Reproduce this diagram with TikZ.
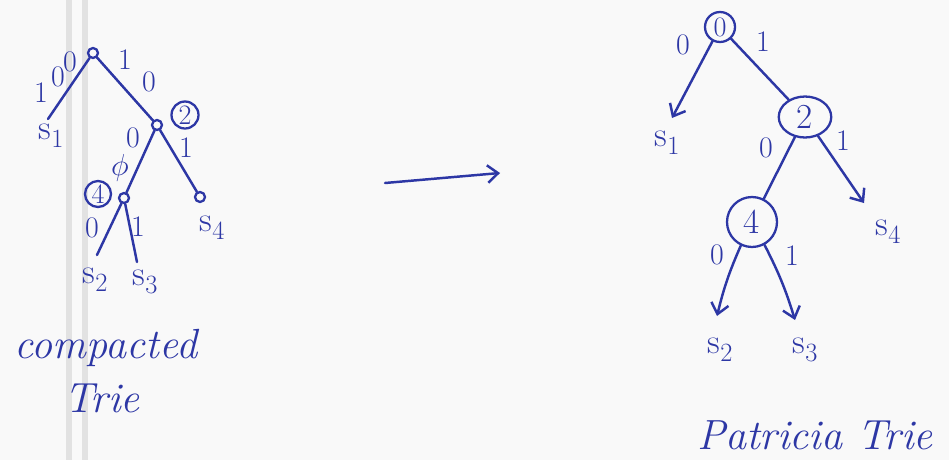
\documentclass[tikz,border=0pt]{standalone}
\usetikzlibrary{arrows.meta,shapes.geometric}
\definecolor{ink}{RGB}{45,55,165}
\definecolor{paper}{RGB}{249,249,249}
\definecolor{marginc}{RGB}{226,226,226}
\newcommand\leafs[1]{s\raisebox{-0.55ex}{\fontsize{15}{15}\selectfont #1}}
\begin{document}
\begin{tikzpicture}[x=0.02cm,y=-0.02cm,
  inkline/.style={draw=ink,line width=1.4pt,line cap=round},
  arr/.style={inkline,-{Straight Barb[length=6pt,width=10pt]}},
  dot/.style={circle,draw=ink,line width=1.3pt,minimum size=0.2cm,inner sep=0pt},
  lab/.style={text=ink,font=\fontsize{17}{17}\selectfont,inner sep=0pt},
  leaf/.style={text=ink,font=\fontsize{20}{20}\selectfont,inner sep=0pt},
  ring/.style={circle,draw=ink,line width=1.3pt,inner sep=0pt,text=ink,font=\fontsize{16}{16}\selectfont},
  capt/.style={text=ink,font=\fontsize{24}{24}\selectfont\itshape,inner sep=0pt}]
\fill[paper] (0,0) rectangle (949,460);
\fill[marginc] (66,0) rectangle (72,460);
\fill[marginc] (82,0) rectangle (88,460);
\useasboundingbox (0,0) rectangle (949,460);

% ---------- compacted trie ----------
\node[dot] (r) at (93,53) {};
\node[dot] (a2) at (157,125) {};
\node[dot] (a4) at (124,198) {};
\node[dot] (b4) at (200,197) {};
\coordinate (b1) at (48,119);
\coordinate (b2) at (97,255);
\coordinate (b3) at (137,262);
\draw[inkline] (r) -- (b1);
\draw[inkline] (r) -- (a2);
\draw[inkline] (a2) -- (a4);
\draw[inkline] (a2) -- (b4);
\draw[inkline] (a4) -- (b2);
\draw[inkline] (a4) -- (b3);
\node[ring,minimum size=0.54cm] (c2) at (185,115) {2};
\node[ring,minimum size=0.52cm] (c4) at (98,194) {4};
\node[lab] (l1) at (41,93) {1};
\node[lab] (l2) at (58,77) {0};
\node[lab] (l3) at (70,62) {0};
\node[lab] (l4) at (125,60) {1};
\node[lab] (l5) at (149,82) {0};
\node[lab] (l6) at (133,138) {0};
\node[lab] (l7) at (120,168) {$\phi$};
\node[lab] (l8) at (186,148) {1};
\node[lab] (l9) at (92,228) {0};
\node[lab] (l10) at (138,227) {1};
\node[leaf] (s1a) at (51,136) {\leafs{1}};
\node[leaf] (s4a) at (212,228) {\leafs{4}};
\node[leaf] (s2a) at (95,280) {\leafs{2}};
\node[leaf] (s3a) at (145,282) {\leafs{3}};
\node[capt] (t1) at (106,348) {compacted};
\node[capt] (t2) at (102,398) {Trie};

% ---------- middle arrow ----------
\coordinate (m1) at (385,183);
\coordinate (m2) at (500,173);
\draw[arr] (m1) -- (m2);

% ---------- patricia trie ----------
\node[ring,minimum size=0.6cm] (R0) at (720,27) {0};
\node[ellipse,draw=ink,line width=1.3pt,inner sep=0pt,text=ink,font=\fontsize{20}{20}\selectfont,minimum width=1.05cm,minimum height=0.82cm] (R2) at (805,117) {2};
\node[ring,minimum size=1.0cm,font=\fontsize{20}{20}\selectfont] (R4) at (752,222) {4};
\coordinate (p1) at (672,118);
\coordinate (p4) at (864,203);
\coordinate (p2) at (717,316);
\coordinate (p3) at (795,320);
\draw[arr] (R0) -- (p1);
\draw[inkline] (R0) -- (R2);
\draw[inkline] (R2) -- (R4);
\draw[arr] (R2) -- (p4);
\draw[arr] (R4) to[bend right=5] (p2);
\draw[arr] (R4) to[bend left=5] (p3);
\node[lab] (q1) at (683,45) {0};
\node[lab] (q2) at (763,42) {1};
\node[lab] (q3) at (766,148) {0};
\node[lab] (q4) at (843,141) {1};
\node[lab] (q5) at (717,255) {0};
\node[lab] (q6) at (792,256) {1};
\node[leaf] (s1b) at (667,143) {\leafs{1}};
\node[leaf] (s4b) at (888,232) {\leafs{4}};
\node[leaf] (s2b) at (720,350) {\leafs{2}};
\node[leaf] (s3b) at (805,350) {\leafs{3}};
\node[capt] (t3) at (815,435) {Patricia Trie};
\end{tikzpicture}
\end{document}
